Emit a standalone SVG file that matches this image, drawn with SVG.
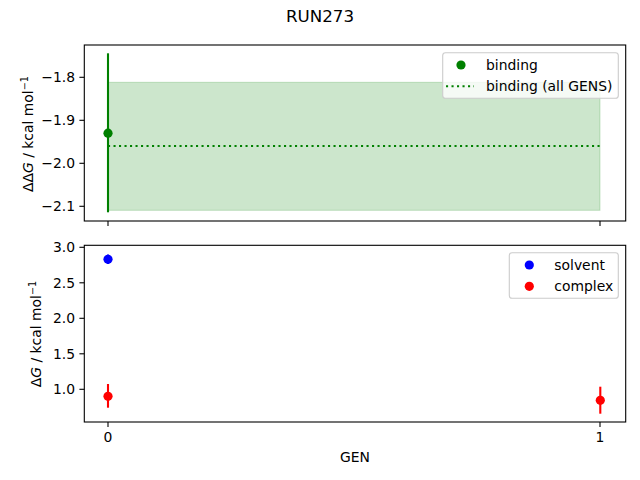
<svg xmlns="http://www.w3.org/2000/svg" width="640" height="480" viewBox="0 0 640 480">
<style>
text{font-family:"DejaVu Sans","Liberation Sans",sans-serif;font-size:13.9px;fill:#000}
.yt{text-anchor:end}
.xt{text-anchor:middle}
.frame{fill:none;stroke:#000;stroke-width:1.1}
.tick{stroke:#000;stroke-width:1.1}
.leg{fill:#fff;fill-opacity:0.8;stroke:#cccccc;stroke-width:1.1}
.eg{stroke:#008000;stroke-width:2.1}
.er{stroke:#ff0000;stroke-width:2.1}
.eb{stroke:#0000ff;stroke-width:2.1}
</style>
<rect x="0" y="0" width="640" height="480" fill="#fff"/>
<text x="320" y="22" text-anchor="middle" style="font-size:16.7px">RUN273</text>

<g id="top-axes">
<rect x="108" y="82.3" width="492" height="128" fill="#008000" fill-opacity="0.2" stroke="#008000" stroke-opacity="0.2" stroke-width="1"/>
<line x1="108" y1="146" x2="600" y2="146" stroke="#008000" stroke-width="2.1" stroke-dasharray="2.1,3.4"/>
<line class="eg" x1="108" y1="53.3" x2="108" y2="212.3"/>
<circle cx="108" cy="133.2" r="4.6" fill="#008000"/>
<rect class="frame" x="84.3" y="45" width="541.4" height="176"/>
<g class="tick">
<line x1="84.3" y1="77.3" x2="79.4" y2="77.3"/>
<line x1="84.3" y1="120.3" x2="79.4" y2="120.3"/>
<line x1="84.3" y1="163.3" x2="79.4" y2="163.3"/>
<line x1="84.3" y1="206.3" x2="79.4" y2="206.3"/>
<line x1="108" y1="221" x2="108" y2="225.9"/>
<line x1="600" y1="221" x2="600" y2="225.9"/>
</g>
<text class="yt" x="75" y="82.3">−1.8</text>
<text class="yt" x="75" y="125.3">−1.9</text>
<text class="yt" x="75" y="168.3">−2.0</text>
<text class="yt" x="75" y="211.3">−2.1</text>
<text transform="translate(32.7,134) rotate(-90)" text-anchor="middle">ΔΔ<tspan font-style="italic">G</tspan> / kcal mol<tspan baseline-shift="super" style="font-size:9.7px">−1</tspan></text>
</g>

<g id="top-legend">
<rect class="leg" x="442.7" y="52.7" width="175.6" height="45.6" rx="2.8"/>
<circle cx="461" cy="65" r="4.6" fill="#008000"/>
<line x1="446" y1="86.3" x2="474" y2="86.3" stroke="#008000" stroke-width="2.1" stroke-dasharray="2.1,3.4"/>
<text x="486" y="70">binding</text>
<text x="486" y="91">binding (all GENS)</text>
</g>

<g id="bottom-axes">
<line class="eb" x1="108" y1="254.5" x2="108" y2="264"/>
<circle cx="108" cy="259.3" r="4.6" fill="#0000ff"/>
<line class="er" x1="108" y1="384" x2="108" y2="407.7"/>
<circle cx="108" cy="396.3" r="4.6" fill="#ff0000"/>
<line class="er" x1="600.3" y1="386.7" x2="600.3" y2="413.7"/>
<circle cx="600.3" cy="400.3" r="4.6" fill="#ff0000"/>
<rect class="frame" x="84.3" y="245.3" width="541.4" height="176.7"/>
<g class="tick">
<line x1="84.3" y1="247.3" x2="79.4" y2="247.3"/>
<line x1="84.3" y1="282.8" x2="79.4" y2="282.8"/>
<line x1="84.3" y1="318.3" x2="79.4" y2="318.3"/>
<line x1="84.3" y1="353.8" x2="79.4" y2="353.8"/>
<line x1="84.3" y1="389.3" x2="79.4" y2="389.3"/>
<line x1="108" y1="422" x2="108" y2="426.9"/>
<line x1="600" y1="422" x2="600" y2="426.9"/>
</g>
<text class="yt" x="75" y="252.3">3.0</text>
<text class="yt" x="75" y="287.8">2.5</text>
<text class="yt" x="75" y="323.3">2.0</text>
<text class="yt" x="75" y="358.8">1.5</text>
<text class="yt" x="75" y="394.3">1.0</text>
<text class="xt" x="108" y="441.5">0</text>
<text class="xt" x="600" y="441.5">1</text>
<text class="xt" x="355" y="462.3">GEN</text>
<text transform="translate(40.5,334) rotate(-90)" text-anchor="middle">Δ<tspan font-style="italic">G</tspan> / kcal mol<tspan baseline-shift="super" style="font-size:9.7px">−1</tspan></text>
</g>

<g id="bottom-legend">
<rect class="leg" x="509.3" y="252.7" width="109" height="45.6" rx="2.8"/>
<circle cx="529.3" cy="265" r="4.6" fill="#0000ff"/>
<circle cx="529.3" cy="286.3" r="4.6" fill="#ff0000"/>
<text x="554.3" y="270">solvent</text>
<text x="554.3" y="291">complex</text>
</g>
</svg>
